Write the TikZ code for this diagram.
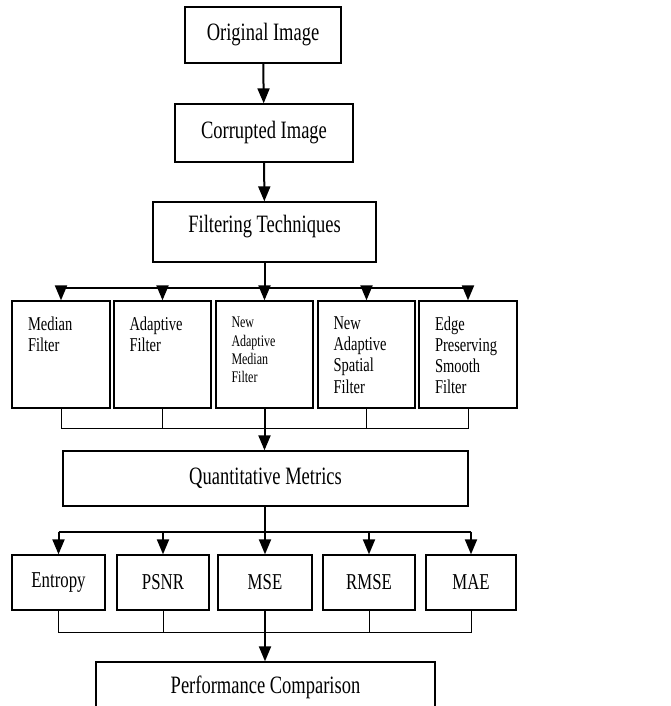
\documentclass[tikz,border=0pt]{standalone}
\usepackage{graphicx}
\usepackage{fontspec}
\setmainfont{Liberation Serif}
\usetikzlibrary{arrows.meta,calc}

% text in the reference is drawn a bit taller than wide
\newcommand{\tall}[1]{\scalebox{1}[1.35]{#1}}
\newcommand{\boxtext}[1]{\tall{\parbox[c][55.5pt][t]{66pt}{\raggedright #1}}}

\begin{document}
\begin{tikzpicture}[x=1pt, y=1pt,
    box/.style={draw, line width=1.3pt, inner sep=0pt, font=\fontsize{18.5}{22}\selectfont},
    filterbox/.style={draw, line width=1.3pt, inner sep=0pt, minimum height=107pt, font=\fontsize{14.5}{15.6}\selectfont},
    metricbox/.style={draw, line width=1.3pt, inner sep=0pt, minimum height=55pt, font=\fontsize{16.8}{20}\selectfont},
    arr/.style={line width=2pt, -{Triangle[length=15pt, width=12pt]}},
    bus/.style={line width=2pt},
    mergeline/.style={line width=1pt}]
    \useasboundingbox (0,0) rectangle (670,706);

    % Main chain
    \node[box, minimum width=156pt, minimum height=56pt] (orig) at (263,671) {\tall{Original Image}};
    \node[box, minimum width=178pt, minimum height=58pt] (corr) at (264,573) {\tall{Corrupted Image}};
    \node[box, minimum width=223pt, minimum height=60pt, text depth=16pt] (filt) at (264.5,474) {\tall{Filtering Techniques}};

    \draw[arr] (orig) -- (corr);
    \draw[arr] (corr) -- (filt);

    % Filters
    \node[filterbox, minimum width=98pt] (f1) at (61,351.5) {\boxtext{Median\\Filter}};
    \node[filterbox, minimum width=97pt] (f2) at (162.5,351.5) {\boxtext{Adaptive\\Filter}};
    \node[filterbox, minimum width=97pt, font=\fontsize{12}{13.6}\selectfont] (f3) at (264.5,351.5) {\boxtext{New\\Adaptive\\Median\\Filter}};
    \node[filterbox, minimum width=97pt] (f4) at (366.5,351.5) {\boxtext{New\\Adaptive\\Spatial\\Filter}};
    \node[filterbox, minimum width=98pt] (f5) at (468,351.5) {\boxtext{Edge\\Preserving\\Smooth\\Filter}};

    % Fan out to filters
    \coordinate (fork1) at ($(filt.south)+(0,-25)$);
    \draw[bus] (filt.south) -- (fork1);
    \draw[bus] (fork1 -| f1) -- (fork1 -| f5);
    \foreach \n in {f1,f2,f3,f4,f5}
        \draw[arr] (fork1 -| \n) -- (\n.north);

    % Quantitative metrics
    \node[box, minimum width=405pt, minimum height=55pt] (quant) at (265.5,227.5) {\tall{Quantitative Metrics}};

    % Merge filters
    \coordinate (merge1) at ($(f3.south)+(0,-20)$);
    \foreach \n in {f1,f2,f4,f5}
        \draw[mergeline] (\n.south) -- (merge1 -| \n);
    \draw[mergeline] (merge1 -| f1) -- (merge1 -| f5);
    \draw[arr] (f3.south) -- (f3.south |- quant.north);

    % Metrics
    \node[metricbox, minimum width=93pt] (m1) at (58.5,123.5) {\tall{Entropy}};
    \node[metricbox, minimum width=92pt] (m2) at (163,123.5) {\tall{PSNR}};
    \node[metricbox, minimum width=94pt] (m3) at (265,123.5) {\tall{MSE}};
    \node[metricbox, minimum width=92pt] (m4) at (369,123.5) {\tall{RMSE}};
    \node[metricbox, minimum width=90pt] (m5) at (471,123.5) {\tall{MAE}};

    % Fan out to metrics
    \coordinate (fork2) at ($(quant.south)+(-1,-25)$);
    \draw[bus] (quant.south -| fork2) -- (fork2);
    \draw[bus] (fork2 -| m1) -- (fork2 -| m5);
    \foreach \n in {m1,m2,m3,m4,m5}
        \draw[arr] (fork2 -| \n) -- (\n.north);

    % Performance comparison
    \node[box, minimum width=339pt, minimum height=50pt] (perf) at (265.5,19) {\tall{Performance Comparison}};

    % Merge metrics
    \coordinate (merge2) at ($(m3.south)+(0,-22)$);
    \foreach \n in {m1,m2,m4,m5}
        \draw[mergeline] (\n.south) -- (merge2 -| \n);
    \draw[mergeline] (merge2 -| m1) -- (merge2 -| m5);
    \draw[arr] (m3.south) -- (m3.south |- perf.north);

\end{tikzpicture}
\end{document}
